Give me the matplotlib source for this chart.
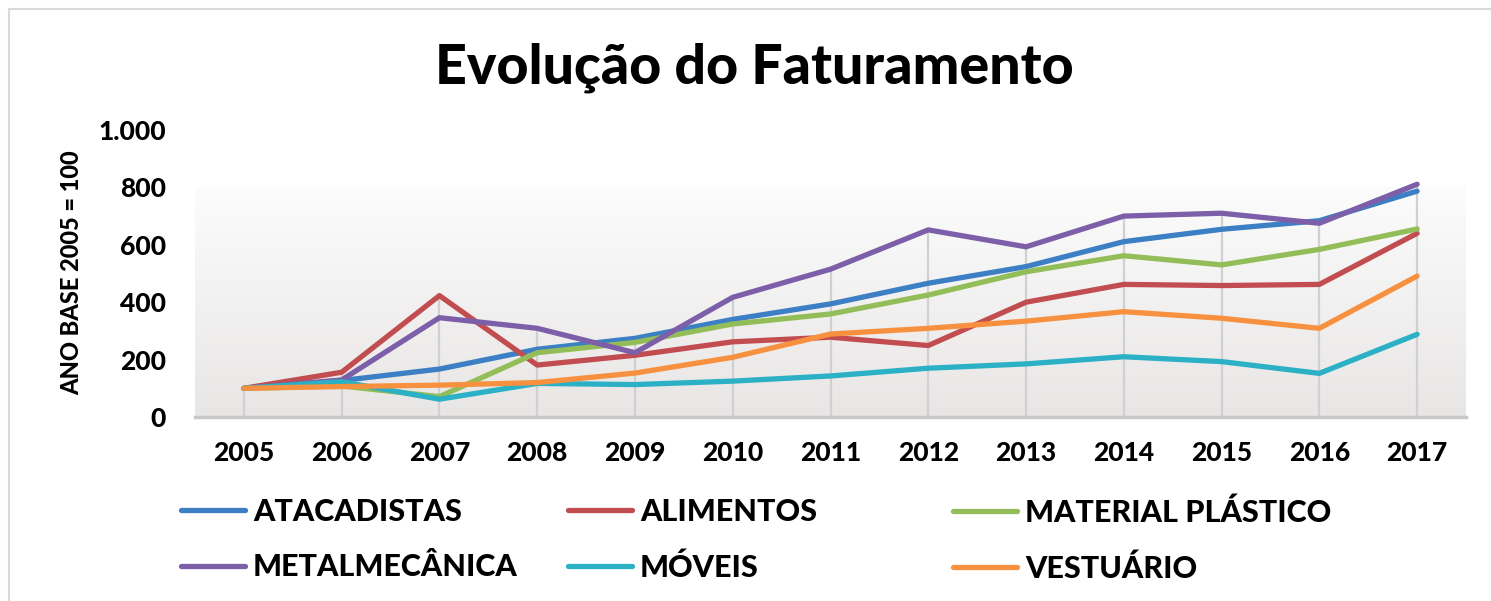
import matplotlib
matplotlib.use("Agg")
import matplotlib.pyplot as plt
import numpy as np
from matplotlib.patches import Rectangle

plt.rcParams['font.family'] = ['Lato', 'DejaVu Sans']

years = ["2005", "2006", "2007", "2008", "2009", "2010", "2011",
         "2012", "2013", "2014", "2015", "2016", "2017"]
atacadistas = [100, 127, 167, 236, 274, 340, 394, 466, 524, 611, 654, 684, 787]
alimentos = [100, 156, 423, 181, 215, 262, 278, 249, 400, 462, 458, 462, 640]
material_plastico = [100, 108, 71, 224, 260, 324, 359, 425, 506, 562, 530, 584, 655]
metalmecanica = [100, 129, 346, 309, 224, 417, 515, 652, 593, 700, 710, 675, 811]
moveis = [100, 123, 62, 117, 113, 125, 143, 170, 185, 210, 193, 152, 288]
vestuario = [100, 106, 111, 120, 153, 208, 289, 309, 334, 367, 344, 309, 491]

series_names = ["ATACADISTAS", "ALIMENTOS", "MATERIAL PLÁSTICO",
                "METALMECÂNICA", "MÓVEIS", "VESTUÁRIO"]
series_values = [atacadistas, alimentos, material_plastico,
                 metalmecanica, moveis, vestuario]
colors = ["#3c7fc4", "#c24d50", "#93bd58", "#7c5fa8", "#2bb0c6", "#f7913f"]

yticks = [0, 200, 400, 600, 800, 1000]
ytick_labels = ["0", "200", "400", "600", "800", "1.000"]

W, H = 1491, 601
fig = plt.figure(figsize=(W / 100, H / 100), dpi=100)
ax = fig.add_axes([195 / W, 1 - 417 / H, 1271 / W, 287 / H])

x = np.arange(len(years))
ax.set_xlim(-0.5, len(years) - 0.5)
ax.set_ylim(0, 1000)

# gradient plot-area background
grad = np.linspace(0, 1, 256).reshape(-1, 1)
c_bot = np.array([0xe8, 0xe6, 0xe5]) / 255
c_top = np.array([0xfc, 0xfc, 0xfc]) / 255
img = c_bot + (c_top - c_bot) * grad[..., None]
img = img[::-1]
ax.imshow(img, extent=[-0.5, len(years) - 0.5, 0, 800], aspect='auto', zorder=0)

# drop lines
maxvals = np.max(np.array(series_values), axis=0)
ax.vlines(x, 0, maxvals, colors="#d0d0d0", lw=1.6, zorder=1)

lines = []
for name, vals, c in zip(series_names, series_values, colors):
    l, = ax.plot(x, vals, color=c, lw=3.8, solid_capstyle='round',
                 solid_joinstyle='round', zorder=3, label=name)
    lines.append(l)

for s in ["top", "right", "left"]:
    ax.spines[s].set_visible(False)
ax.spines["bottom"].set_color("#c8c8c8")
ax.spines["bottom"].set_linewidth(2.5)
ax.spines["bottom"].set_zorder(2)

W8 = 'black'
ax.set_xticks(x)
ax.set_xticklabels(years, fontsize=19, fontweight=W8)
ax.set_yticks(yticks)
ax.set_yticklabels(ytick_labels, fontsize=19, fontweight=W8)
ax.tick_params(axis='both', length=0)
ax.tick_params(axis='y', pad=21)
ax.tick_params(axis='x', pad=17)
ax.set_facecolor('white')

fig.text(72 / W, 1 - 273 / H, "ANO BASE 2005 = 100", rotation=90,
         ha='center', va='center', fontsize=17, fontweight=W8)

fig.text(754 / W, 1 - 68 / H, "Evolução do Faturamento", ha='center',
         va='center', fontsize=40, fontweight=W8)

# legend: three columns
col_x = [181, 568, 953]
for ci in range(3):
    hs = [lines[ci], lines[ci + 3]]
    fig.legend(handles=hs, labels=[series_names[ci], series_names[ci + 3]],
               loc='upper left', bbox_to_anchor=(col_x[ci] / W, 1 - 498 / H),
               frameon=False, ncol=1, handlelength=2.1, handletextpad=0.25,
               labelspacing=0.9, borderaxespad=0, borderpad=0,
               prop={'size': 22, 'weight': W8})

fig.patches.append(Rectangle((9 / W, -0.2), 2, 1 - 9 / H + 0.2,
                             transform=fig.transFigure, fill=False,
                             edgecolor="#d9d9d9", lw=1.5))

fig.savefig("out.png", dpi=100, facecolor='white')
